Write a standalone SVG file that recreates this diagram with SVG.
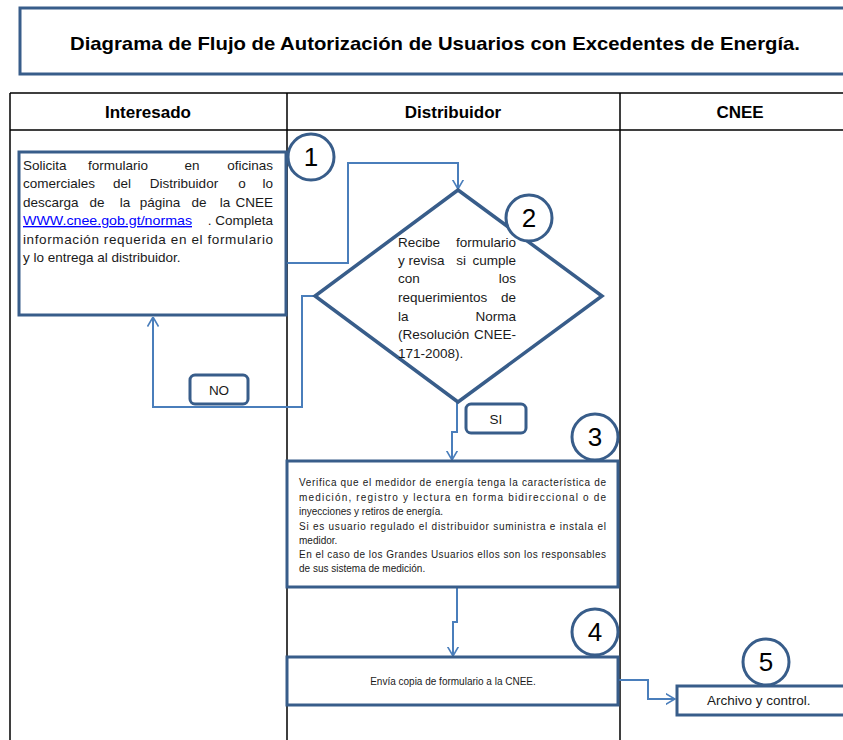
<svg xmlns="http://www.w3.org/2000/svg" width="843" height="740" viewBox="0 0 843 740">
<defs>
<style>
.box{fill:#fff;stroke:#385D8A;stroke-width:3}
.lab{fill:#fff;stroke:#385D8A;stroke-width:3}
.circ{fill:#fff;stroke:#385D8A;stroke-width:3}
.num{font-family:"Liberation Sans",Arial,sans-serif;font-size:26px;fill:#000;text-anchor:middle}
.t{font-family:"Liberation Sans",Arial,sans-serif;font-size:13.5px;fill:#1a1a1a}
.s{font-family:"Liberation Sans",Arial,sans-serif;font-size:10px;fill:#1a1a1a}
.hdr{font-family:"Liberation Sans",Arial,sans-serif;font-size:17px;font-weight:bold;fill:#000;text-anchor:middle}
.grid{stroke:#000;stroke-width:1.5;fill:none}
.conn{fill:none;stroke:#4A7EBB;stroke-width:2;marker-end:url(#arr)}
.e{text-anchor:end}
.m{text-anchor:middle}
</style>
<marker id="arr" viewBox="0 0 10 12" refX="9.5" refY="6" markerWidth="10" markerHeight="12" markerUnits="userSpaceOnUse" orient="auto">
<path d="M0,0.5 L9.5,6 L0,11.5" fill="none" stroke="#4A7EBB" stroke-width="1.6"/>
</marker>
</defs>
<rect width="843" height="740" fill="#fff"/>

<g id="title">
<rect x="20" y="8" width="850" height="66" fill="#fff" stroke="#385D8A" stroke-width="3"/>
<text x="435" y="50" font-family="Liberation Sans,Arial,sans-serif" font-size="18.5" font-weight="bold" text-anchor="middle" textLength="730" lengthAdjust="spacingAndGlyphs">Diagrama de Flujo de Autorización de Usuarios con Excedentes de Energía.</text>
</g>

<g id="table">
<path class="grid" d="M10,93 H850 M10,130 H850 M10,93 V745 M287,93 V745 M620,93 V745"/>
<text class="hdr" x="148" y="118">Interesado</text>
<text class="hdr" x="453" y="118">Distribuidor</text>
<text class="hdr" x="740" y="118">CNEE</text>
</g>

<g id="connectors">
<path class="conn" d="M286,263 H348 V163 H458 V189"/>
<path class="conn" d="M315,296 H302 V407 H153 V317"/>
<path class="conn" d="M457,402 V432 H452 V460"/>
<path class="conn" d="M457,587 V622 H453 V656"/>
<path class="conn" d="M619,680 H648 V699 H675"/>
</g>

<g id="node1">
<rect class="box" x="19" y="152" width="267" height="163"/>
<text class="t" y="170"><tspan x="23">Solicita</tspan><tspan x="118" class="m">formulario</tspan><tspan x="192" class="m">en</tspan><tspan x="273" class="e">oficinas</tspan></text>
<text class="t" y="188"><tspan x="23">comerciales</tspan><tspan x="122" class="m">del</tspan><tspan x="184" class="m">Distribuidor</tspan><tspan x="242" class="m">o</tspan><tspan x="273" class="e">lo</tspan></text>
<text class="t" y="207"><tspan x="23">descarga</tspan><tspan x="97" class="m">de</tspan><tspan x="125" class="m">la</tspan><tspan x="160" class="m">página</tspan><tspan x="199" class="m">de</tspan><tspan x="225" class="m">la</tspan><tspan x="273" class="e">CNEE</tspan></text>
<text class="t" y="225"><tspan x="23" fill="#0000FF" text-decoration="underline" textLength="169" lengthAdjust="spacingAndGlyphs">WWW.cnee.gob.gt/normas</tspan><tspan x="273" class="e">. Completa</tspan></text>
<text class="t" x="23" y="244" textLength="250" lengthAdjust="spacing">información requerida en el formulario</text>
<text class="t" x="23" y="262">y lo entrega al distribuidor.</text>
<circle class="circ" cx="311" cy="157" r="23"/>
<text class="num" x="311" y="166">1</text>
</g>

<g id="node2">
<path d="M458,190 L602,296 L458,402 L315,296 Z" fill="#fff" stroke="#385D8A" stroke-width="3.5" stroke-linejoin="miter"/>
<text class="t" y="247"><tspan x="398">Recibe</tspan><tspan x="516" class="e">formulario</tspan></text>
<text class="t" y="265"><tspan x="398">y revisa</tspan><tspan x="461" class="m">si</tspan><tspan x="516" class="e">cumple</tspan></text>
<text class="t" y="283"><tspan x="398">con</tspan><tspan x="516" class="e">los</tspan></text>
<text class="t" y="302"><tspan x="398">requerimientos</tspan><tspan x="516" class="e">de</tspan></text>
<text class="t" y="321"><tspan x="398">la</tspan><tspan x="516" class="e">Norma</tspan></text>
<text class="t" y="339"><tspan x="398">(Resolución</tspan><tspan x="516" class="e">CNEE-</tspan></text>
<text class="t" x="398" y="358">171-2008).</text>
<circle class="circ" cx="529" cy="218" r="23"/>
<text class="num" x="529" y="227">2</text>
</g>

<g id="label-no">
<rect class="lab" x="190" y="375" width="58" height="29" rx="5"/>
<text class="t m" x="219" y="395" font-size="14">NO</text>
</g>

<g id="label-si">
<rect class="lab" x="466" y="404" width="60" height="29" rx="5"/>
<text class="t m" x="496" y="424" font-size="14">SI</text>
</g>

<g id="node3">
<rect class="box" x="287" y="461" width="331" height="126"/>
<text class="s" x="299" y="486" textLength="307" lengthAdjust="spacing">Verifica que el medidor de energía tenga la característica de</text>
<text class="s" x="299" y="501" textLength="307" lengthAdjust="spacing">medición, registro y lectura en forma bidireccional o de</text>
<text class="s" x="299" y="515">inyecciones y retiros de energía.</text>
<text class="s" x="299" y="530" textLength="307" lengthAdjust="spacing">Si es usuario regulado el distribuidor suministra e instala el</text>
<text class="s" x="299" y="544">medidor.</text>
<text class="s" x="299" y="558" textLength="307" lengthAdjust="spacing">En el caso de los Grandes Usuarios ellos son los responsables</text>
<text class="s" x="299" y="572">de sus sistema de medición.</text>
<circle class="circ" cx="595" cy="437" r="23"/>
<text class="num" x="595" y="446">3</text>
</g>

<g id="node4">
<rect class="box" x="287" y="657" width="331" height="48"/>
<text class="s m" x="453" y="685">Envía copia de formulario a la CNEE.</text>
<circle class="circ" cx="595" cy="632" r="23"/>
<text class="num" x="595" y="641">4</text>
</g>

<g id="node5">
<rect class="box" x="677" y="686" width="190" height="29"/>
<text class="t" x="707" y="705" font-size="14">Archivo y control.</text>
<circle class="circ" cx="766" cy="662" r="23"/>
<text class="num" x="766" y="671">5</text>
</g>
</svg>
